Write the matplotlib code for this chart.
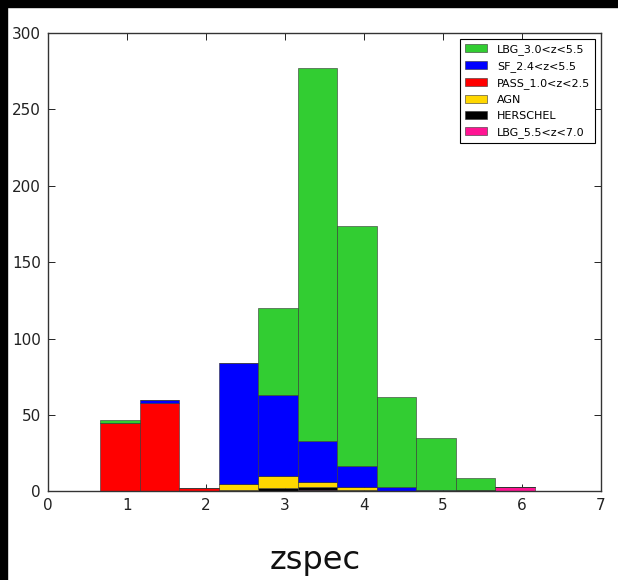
import numpy as np
import matplotlib.pyplot as plt
from matplotlib.patches import Rectangle

# Bin left edges (width 0.5) in zspec
bin_left = [0.66, 1.16, 1.66, 2.16, 2.66, 3.16, 3.66, 4.16, 4.66, 5.16, 5.66, 6.16]
bin_width = 0.5

# Counts per bin, stacked bottom -> top
lbg_high = [0, 0, 0, 0, 0, 1, 0, 0, 0, 1, 3, 0]        # LBG_5.5<z<7.0
herschel = [0, 0, 0, 1, 2, 2, 1, 0, 0, 0, 0, 0]        # HERSCHEL
agn = [0, 0, 0, 4, 8, 3, 2, 0, 0, 0, 0, 0]             # AGN
passive = [45, 58, 2, 0, 0, 0, 0, 0, 0, 0, 0, 0]       # PASS_1.0<z<2.5
sf = [0, 2, 0, 79, 53, 27, 14, 3, 1, 0, 0, 0]          # SF_2.4<z<5.5
lbg_low = [2, 0, 0, 0, 57, 244, 157, 59, 34, 8, 0, 0]  # LBG_3.0<z<5.5

series = [
    ("LBG_5.5<z<7.0", lbg_high, "#FF1493"),
    ("HERSCHEL", herschel, "black"),
    ("AGN", agn, "#FFD700"),
    ("PASS_1.0<z<2.5", passive, "#FF0000"),
    ("SF_2.4<z<5.5", sf, "#0000FF"),
    ("LBG_3.0<z<5.5", lbg_low, "#32CD32"),
]

fig = plt.figure(figsize=(6.18, 5.8), dpi=100, facecolor="white")
ax = fig.add_axes([0.0777, 0.1526, 0.8948, 0.7904])

bottom = np.zeros(len(bin_left))
handles = {}
for label, counts, color in series:
    bars = ax.bar(bin_left, counts, width=bin_width, bottom=bottom, align="edge",
                  color=color, edgecolor="#333333", linewidth=0.4, label=label, zorder=2)
    handles[label] = bars
    bottom += np.array(counts)

ax.set_xlim(0, 7)
ax.set_ylim(0, 300)
ax.set_xticks(range(0, 8))
ax.set_yticks(range(0, 301, 50))
ax.tick_params(direction="in", top=True, right=True, length=5, width=0.6,
               labelsize=11, pad=5, labelcolor="#222222", zorder=5)
for s in ax.spines.values():
    s.set_linewidth(1.0)
    s.set_color("#333333")
    s.set_zorder(5)

order = ["LBG_3.0<z<5.5", "SF_2.4<z<5.5", "PASS_1.0<z<2.5", "AGN", "HERSCHEL", "LBG_5.5<z<7.0"]
leg = ax.legend([handles[k] for k in order], order, loc="upper right", fontsize=8,
                fancybox=False, framealpha=1, edgecolor="black", handlelength=2.0,
                handletextpad=0.9, borderpad=0.45, labelspacing=0.55, borderaxespad=0.5)
leg.get_frame().set_linewidth(0.8)

fig.text(0.51, 0.033, "zspec", fontsize=23, ha="center", va="center", color="#111111")

# dark slide border at top and left
fig.patches.append(Rectangle((0, 0.988), 1, 0.012, transform=fig.transFigure,
                             color="black", zorder=10))
fig.patches.append(Rectangle((0, 0), 0.011, 1, transform=fig.transFigure,
                             color="black", zorder=10))

fig.savefig("out.png", dpi=100)
